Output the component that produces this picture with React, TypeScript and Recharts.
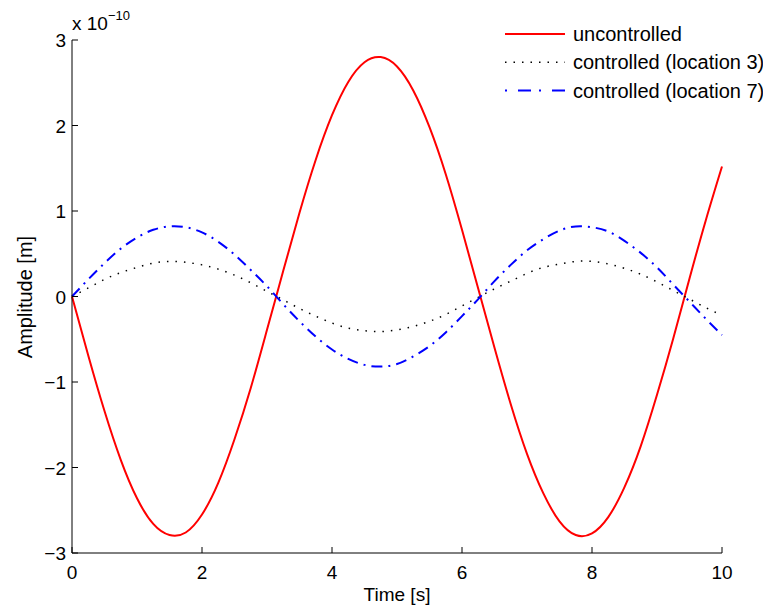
import { LineChart, Line, XAxis, YAxis } from "recharts";

// time samples [s]
const time = [
  0, 0.25, 0.5, 0.75, 1, 1.25, 1.5, 1.75, 2, 2.25, 2.5, 2.75, 3, 3.25, 3.5, 3.75, 4,
  4.25, 4.5, 4.75, 5, 5.25, 5.5, 5.75, 6, 6.25, 6.5, 6.75, 7, 7.25, 7.5, 7.75, 8,
  8.25, 8.5, 8.75, 9, 9.25, 9.5, 9.75, 10,
];

// amplitudes, x 1e-10 m
const uncontrolled = [
  0, -0.69, -1.34, -1.91, -2.36, -2.66, -2.79, -2.76, -2.55, -2.18, -1.67, -1.07,
  -0.39, 0.3, 0.98, 1.6, 2.12, 2.51, 2.74, 2.8, 2.69, 2.41, 1.98, 1.43, 0.78, 0.09,
  -0.6, -1.26, -1.84, -2.3, -2.63, -2.79, -2.77, -2.58, -2.23, -1.75, -1.15, -0.49,
  0.21, 0.89, 1.52,
];
const location3 = [
  0, 0.1, 0.2, 0.28, 0.34, 0.39, 0.41, 0.4, 0.37, 0.32, 0.25, 0.16, 0.06, -0.04,
  -0.14, -0.23, -0.31, -0.37, -0.4, -0.41, -0.39, -0.35, -0.29, -0.21, -0.11, -0.01,
  0.09, 0.18, 0.27, 0.34, 0.38, 0.41, 0.41, 0.38, 0.33, 0.26, 0.17, 0.07, -0.03,
  -0.13, -0.22,
];
const location7 = [
  0, 0.2, 0.39, 0.56, 0.69, 0.78, 0.82, 0.81, 0.75, 0.64, 0.49, 0.31, 0.12, -0.09,
  -0.29, -0.47, -0.62, -0.73, -0.8, -0.82, -0.79, -0.7, -0.58, -0.42, -0.23, -0.03,
  0.18, 0.37, 0.54, 0.67, 0.77, 0.82, 0.81, 0.76, 0.65, 0.51, 0.34, 0.14, -0.06,
  -0.26, -0.45,
];

const xTicks = [0, 2, 4, 6, 8, 10];
const yTicks = [-3, -2, -1, 0, 1, 2, 3];

const data = time.map((t, i) => ({
  t,
  unc: uncontrolled[i],
  loc3: location3[i],
  loc7: location7[i],
}));

const FONT = "'Liberation Sans', Arial, Helvetica, sans-serif";
const W = 763;
const H = 609;
const LEFT = 72;
const RIGHT = 722;
const BOTTOM = 553;

const fmt = (v: number) => (v < 0 ? "\u2212" + Math.abs(v) : String(v));

const YTick = (props: any) => {
  const { y, payload } = props;
  return (
    <g>
      <line x1={LEFT} x2={LEFT + 6} y1={y} y2={y} stroke="#000" />
      <text x={LEFT - 6} y={y} dy={7} textAnchor="end" fontSize={19} fontFamily={FONT} fill="#000">
        {fmt(payload.value)}
      </text>
    </g>
  );
};

const XTick = (props: any) => {
  const { x, payload } = props;
  return (
    <g>
      <line x1={x} x2={x} y1={BOTTOM} y2={BOTTOM - 6} stroke="#000" />
      <text x={x} y={BOTTOM + 26} textAnchor="middle" fontSize={19} fontFamily={FONT} fill="#000">
        {fmt(payload.value)}
      </text>
    </g>
  );
};

const legendItems = [
  { label: "uncontrolled", color: "#ff0000", dash: undefined, width: 2 },
  { label: "controlled (location 3)", color: "#000000", dash: "1.5 7", width: 1.5 },
  { label: "controlled (location 7)", color: "#0000ff", dash: "2 11 13 8", width: 2 },
];

const LegendBlock = () => (
  <g>
    {legendItems.map((it, i) => {
      const y = 34 + i * 28.3;
      return (
        <g key={it.label}>
          <line x1={505} x2={565} y1={y} y2={y} stroke={it.color} strokeWidth={it.width} strokeDasharray={it.dash} />
          <text x={573} y={y + 7} fontSize={20} fontFamily={FONT} fill="#000">
            {it.label}
          </text>
        </g>
      );
    })}
  </g>
);

export default function App() {
  return (
    <div style={{ position: "absolute", left: 0, top: 0, width: W, height: H, background: "#fff" }}>
      <LineChart width={W} height={H} data={data} margin={{ top: 40, right: W - RIGHT, left: 0, bottom: 0 }}>
        <XAxis
          dataKey="t"
          type="number"
          domain={[0, 10]}
          ticks={xTicks}
          height={56}
          tickLine={false}
          axisLine={{ stroke: "#000" }}
          tick={<XTick />}
        />
        <YAxis
          type="number"
          domain={[-3, 3]}
          ticks={yTicks}
          width={LEFT}
          tickLine={false}
          axisLine={{ stroke: "#000" }}
          tick={<YTick />}
        />
        <Line type="natural" dataKey="unc" stroke="#ff0000" strokeWidth={2} dot={false} isAnimationActive={false} />
        <Line
          type="natural"
          dataKey="loc3"
          stroke="#000000"
          strokeWidth={1.5}
          strokeDasharray="1.5 7"
          dot={false}
          isAnimationActive={false}
        />
        <Line
          type="natural"
          dataKey="loc7"
          stroke="#0000ff"
          strokeWidth={2}
          strokeDasharray="11 6 2 6"
          dot={false}
          isAnimationActive={false}
        />
        <LegendBlock />
        <text x={LEFT} y={30} fontSize={19} fontFamily={FONT} fill="#000">
          x 10
          <tspan dy={-10} fontSize={13}>
            {"\u221210"}
          </tspan>
        </text>
        <text x={(LEFT + RIGHT) / 2} y={601} textAnchor="middle" fontSize={19} fontFamily={FONT} fill="#000">
          Time [s]
        </text>
        <text
          x={32}
          y={297}
          textAnchor="middle"
          fontSize={20}
          fontFamily={FONT}
          fill="#000"
          transform="rotate(-90 32 297)"
        >
          Amplitude [m]
        </text>
      </LineChart>
    </div>
  );
}
